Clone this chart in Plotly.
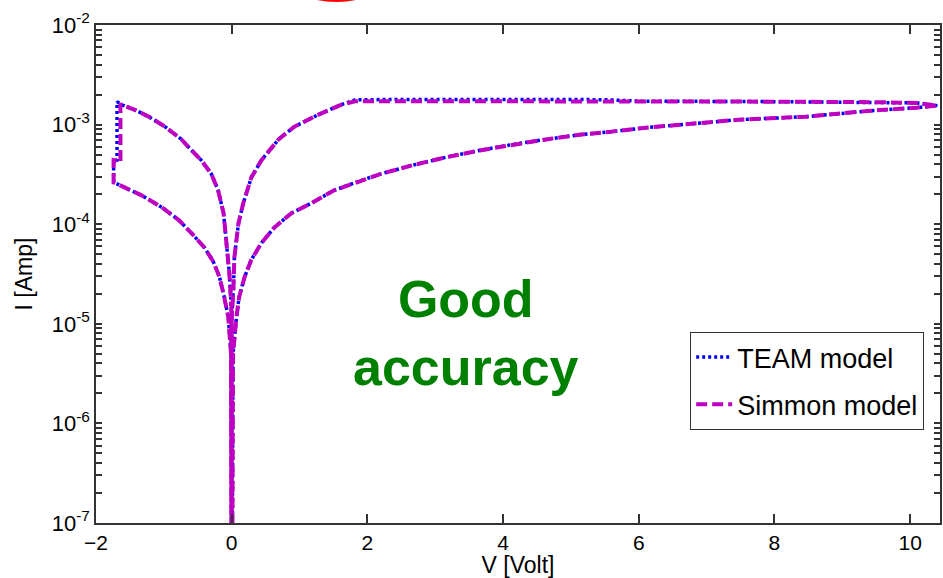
import plotly.graph_objects as go

# ---- data (V in volts, I in amps) ----
V_simmon = [0.0, 0.0, 0.025, 0.04, 0.10, 0.17, 0.29, 0.44, 0.69, 0.92, 1.28, 1.61, 1.83,
            2.5, 4.0, 6.0, 8.0, 9.5, 10.1, 10.4,
            10.1, 9.43, 8.46, 7.47, 6.59, 6.10, 5.60, 5.12, 4.63, 4.13, 3.65, 3.16, 2.66,
            2.20, 1.91, 1.51, 1.17, 0.88, 0.63, 0.44, 0.29, 0.19, 0.11, 0.07, 0.02, 0.0,
            -0.01, -0.05, -0.11, -0.18, -0.27, -0.40, -0.59, -0.78, -1.03, -1.33, -1.58, -1.74,
            -1.74, -1.64, -1.64,
            -1.62, -1.42, -1.22, -0.98, -0.74, -0.60, -0.45, -0.30, -0.20, -0.12, -0.08, -0.034, -0.005, 0.0]
I_simmon = [1e-9, 1.1e-5, 2.2e-5, 4.7e-5, 1.02e-4, 1.62e-4, 2.95e-4, 4.4e-4, 7.1e-4, 9.5e-4, 1.26e-3, 1.58e-3, 1.72e-3,
            1.72e-3, 1.72e-3, 1.71e-3, 1.70e-3, 1.68e-3, 1.65e-3, 1.55e-3,
            1.48e-3, 1.38e-3, 1.20e-3, 1.12e-3, 1.0e-3, 9.3e-4, 8.5e-4, 7.9e-4, 7.1e-4, 6.3e-4, 5.5e-4, 4.7e-4, 3.9e-4,
            3.2e-4, 2.75e-4, 2.19e-4, 1.62e-4, 1.29e-4, 9.3e-5, 6.5e-5, 4.4e-5, 2.95e-5, 1.86e-5, 1.17e-5, 5e-6, 1e-9,
            5e-6, 1.17e-5, 1.86e-5, 2.95e-5, 4.2e-5, 5.8e-5, 8.1e-5, 1.10e-4, 1.48e-4, 1.95e-4, 2.34e-4, 2.63e-4,
            4.4e-4, 4.2e-4, 1.62e-3,
            1.58e-3, 1.40e-3, 1.20e-3, 9.5e-4, 7.1e-4, 5.6e-4, 4.4e-4, 3.2e-4, 2.19e-4, 1.29e-4, 6.9e-5, 3.2e-5, 1.48e-5, 1e-9]

V_team = [0.0, 0.0, 0.025, 0.04, 0.10, 0.17, 0.29, 0.44, 0.69, 0.92, 1.28, 1.61, 1.83,
          2.5, 4.0, 5.5, 6.0, 8.0, 9.5, 10.1, 10.4,
          10.1, 9.43, 8.46, 7.47, 6.59, 6.10, 5.60, 5.12, 4.63, 4.13, 3.65, 3.16, 2.66,
          2.20, 1.91, 1.51, 1.17, 0.88, 0.63, 0.44, 0.29, 0.19, 0.11, 0.07, 0.02, 0.0,
          -0.01, -0.05, -0.11, -0.18, -0.27, -0.40, -0.59, -0.78, -1.03, -1.33, -1.58, -1.74,
          -1.74, -1.69, -1.69,
          -1.62, -1.42, -1.22, -0.98, -0.74, -0.60, -0.45, -0.30, -0.20, -0.12, -0.08, -0.034, -0.005, 0.0]
I_team = [1e-9, 1.1e-5, 2.2e-5, 4.7e-5, 1.02e-4, 1.62e-4, 2.95e-4, 4.4e-4, 7.1e-4, 9.5e-4, 1.26e-3, 1.58e-3, 1.78e-3,
          1.79e-3, 1.79e-3, 1.78e-3, 1.72e-3, 1.70e-3, 1.68e-3, 1.65e-3, 1.55e-3,
          1.48e-3, 1.38e-3, 1.20e-3, 1.12e-3, 1.0e-3, 9.3e-4, 8.5e-4, 7.9e-4, 7.1e-4, 6.3e-4, 5.5e-4, 4.7e-4, 3.9e-4,
          3.2e-4, 2.75e-4, 2.19e-4, 1.62e-4, 1.29e-4, 9.3e-5, 6.5e-5, 4.4e-5, 2.95e-5, 1.86e-5, 1.17e-5, 5e-6, 1e-9,
          5e-6, 1.17e-5, 1.86e-5, 2.95e-5, 4.2e-5, 5.8e-5, 8.1e-5, 1.10e-4, 1.48e-4, 1.95e-4, 2.34e-4, 2.63e-4,
          4.4e-4, 4.4e-4, 1.70e-3,
          1.58e-3, 1.40e-3, 1.20e-3, 9.5e-4, 7.1e-4, 5.6e-4, 4.4e-4, 3.2e-4, 2.19e-4, 1.29e-4, 6.9e-5, 3.2e-5, 1.48e-5, 1e-9]

x_ticks = [-2, 0, 2, 4, 6, 8, 10]
y_ticks = [1e-7, 1e-6, 1e-5, 1e-4, 1e-3, 1e-2]
y_ticktext = ["10<sup>-7</sup>", "10<sup>-6</sup>", "10<sup>-5</sup>", "10<sup>-4</sup>",
              "10<sup>-3</sup>", "10<sup>-2</sup>"]
series_names = ["TEAM model", "Simmon model"]

# minor tick positions: 2..9 within each decade (unlabelled)
y_minor = [m * d for d in y_ticks[:-1] for m in range(2, 10)]
y_all_ticks = y_ticks + y_minor
y_all_text = y_ticktext + [""] * len(y_minor)

FONT = "Liberation Sans, Arial, sans-serif"
AX = "#333333"

fig = go.Figure()
fig.add_trace(go.Scatter(x=V_team, y=I_team, mode="lines", name=series_names[0],
                         legendgroup="a",
                         line=dict(color="#0000FF", width=3.5, dash="3px,3px")))
fig.add_trace(go.Scatter(x=V_simmon, y=I_simmon, mode="lines", name=series_names[1],
                         legendgroup="b",
                         line=dict(color="#C000C0", width=4, dash="11px,5px")))

fig.update_layout(
    width=943, height=578,
    margin=dict(l=96, r=1, t=25, b=55),
    plot_bgcolor="white", paper_bgcolor="white",
    font=dict(family=FONT, size=22, color="black"),
    showlegend=True,
    legend=dict(x=0.704, y=0.3835, xanchor="left", yanchor="top",
                bordercolor="#333333", borderwidth=1, bgcolor="white",
                font=dict(size=27, family=FONT), tracegroupgap=9, itemwidth=36),
    xaxis=dict(range=[-2, 10.44], tickmode="array", tickvals=x_ticks, ticks="inside",
               ticklen=9, tickwidth=2, tickcolor=AX,
               showline=True, mirror="ticks", linecolor=AX, linewidth=1.5,
               showgrid=False, zeroline=False, layer="above traces",
               tickfont=dict(size=21),
               title=dict(text="V [Volt]", standoff=6, font=dict(size=23))),
    yaxis=dict(type="log", range=[-7, -2], tickmode="array", tickvals=y_all_ticks,
               ticktext=y_all_text,
               ticks="inside", ticklen=6, tickwidth=1.5, tickcolor=AX,
               showline=True, mirror="ticks",
               linecolor=AX, linewidth=1.5, layer="above traces",
               showgrid=False, zeroline=False, tickfont=dict(size=22),
               title=dict(text="I [Amp]", standoff=13, font=dict(size=23))),
)

fig.add_annotation(x=0.4385, y=0.3815, xref="paper", yref="paper",
                   text="<b>Good<br>accuracy</b>", showarrow=False,
                   font=dict(family=FONT, size=52, color="#008000"))

# red arc fragment at the top edge
fig.add_shape(type="circle", xref="paper", yref="paper",
              x0=(337 - 60 - 96) / 846, x1=(337 + 60 - 96) / 846,
              y0=(523 - 0) / 498, y1=(523 + 80) / 498,
              line=dict(color="#FF0000", width=4))

fig.write_html("out.html")
